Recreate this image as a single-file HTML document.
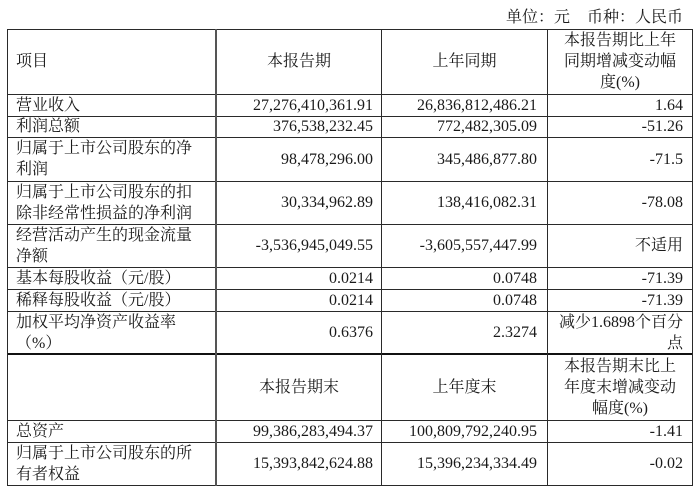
<!DOCTYPE html>
<html>
<head>
<meta charset="utf-8">
<style>
html,body{margin:0;padding:0;background:#fff;}
#w{position:relative;width:700px;height:495px;overflow:hidden;background:#fff;
font-family:"Liberation Serif","Noto Serif CJK SC",serif;font-size:16px;color:#1a1a1a;}
.h{position:absolute;left:7px;width:686px;height:1px;background:#2a2a2a;}
.v{position:absolute;top:29px;height:457px;width:1px;background:#2a2a2a;}
.c{position:absolute;display:flex;align-items:center;line-height:21px;white-space:nowrap;}
.l{justify-content:flex-start;text-align:left;}
.r{justify-content:flex-end;text-align:right;}
.m{justify-content:center;text-align:center;}
#t{position:absolute;right:17px;top:7px;line-height:22px;white-space:nowrap;}
</style>
</head>
<body>
<div id="w">
<div id="t">单位：元<span style="display:inline-block;width:17px"></span>币种：人民币</div>

<!-- horizontal lines -->
<div class="h" style="top:29px"></div>
<div class="h" style="top:94px"></div>
<div class="h" style="top:116px"></div>
<div class="h" style="top:137px"></div>
<div class="h" style="top:181px"></div>
<div class="h" style="top:224px"></div>
<div class="h" style="top:267px"></div>
<div class="h" style="top:289px"></div>
<div class="h" style="top:311px"></div>
<div class="h" style="top:353px;height:2px;background:#111"></div>
<div class="h" style="top:420px"></div>
<div class="h" style="top:442px"></div>
<div class="h" style="top:485px"></div>
<!-- vertical lines -->
<div class="v" style="left:7px"></div>
<div class="v" style="left:215px;width:2px;background:#555"></div>
<div class="v" style="left:381px"></div>
<div class="v" style="left:547px"></div>
<div class="v" style="left:692px"></div>

<!-- header -->
<div class="c l" style="left:16px;top:29px;width:190px;height:65px">项目</div>
<div class="c m" style="left:217px;top:29px;width:164px;height:65px">本报告期</div>
<div class="c m" style="left:382px;top:29px;width:165px;height:65px">上年同期</div>
<div class="c m" style="left:548px;top:29px;width:144px;height:65px">本报告期比上年<br>同期增减变动幅<br>度(%)</div>

<!-- row1 -->
<div class="c l" style="left:16px;top:94px;width:190px;height:22px">营业收入</div>
<div class="c r" style="left:217px;top:94px;width:156px;height:22px">27,276,410,361.91</div>
<div class="c r" style="left:382px;top:94px;width:155px;height:22px">26,836,812,486.21</div>
<div class="c r" style="left:548px;top:94px;width:135px;height:22px">1.64</div>
<!-- row2 -->
<div class="c l" style="left:16px;top:116px;width:190px;height:21px">利润总额</div>
<div class="c r" style="left:217px;top:116px;width:156px;height:21px">376,538,232.45</div>
<div class="c r" style="left:382px;top:116px;width:155px;height:21px">772,482,305.09</div>
<div class="c r" style="left:548px;top:116px;width:135px;height:21px">-51.26</div>
<!-- row3 -->
<div class="c l" style="left:16px;top:137px;width:195px;height:44px">归属于上市公司股东的净<br>利润</div>
<div class="c r" style="left:217px;top:137px;width:156px;height:44px">98,478,296.00</div>
<div class="c r" style="left:382px;top:137px;width:155px;height:44px">345,486,877.80</div>
<div class="c r" style="left:548px;top:137px;width:135px;height:44px">-71.5</div>
<!-- row4 -->
<div class="c l" style="left:16px;top:181px;width:195px;height:43px">归属于上市公司股东的扣<br>除非经常性损益的净利润</div>
<div class="c r" style="left:217px;top:181px;width:156px;height:43px">30,334,962.89</div>
<div class="c r" style="left:382px;top:181px;width:155px;height:43px">138,416,082.31</div>
<div class="c r" style="left:548px;top:181px;width:135px;height:43px">-78.08</div>
<!-- row5 -->
<div class="c l" style="left:16px;top:224px;width:195px;height:43px">经营活动产生的现金流量<br>净额</div>
<div class="c r" style="left:217px;top:224px;width:156px;height:43px">-3,536,945,049.55</div>
<div class="c r" style="left:382px;top:224px;width:155px;height:43px">-3,605,557,447.99</div>
<div class="c r" style="left:548px;top:224px;width:135px;height:43px">不适用</div>
<!-- row6 -->
<div class="c l" style="left:16px;top:267px;width:195px;height:22px">基本每股收益（元/股）</div>
<div class="c r" style="left:217px;top:267px;width:156px;height:22px">0.0214</div>
<div class="c r" style="left:382px;top:267px;width:155px;height:22px">0.0748</div>
<div class="c r" style="left:548px;top:267px;width:135px;height:22px">-71.39</div>
<!-- row7 -->
<div class="c l" style="left:16px;top:289px;width:195px;height:22px">稀释每股收益（元/股）</div>
<div class="c r" style="left:217px;top:289px;width:156px;height:22px">0.0214</div>
<div class="c r" style="left:382px;top:289px;width:155px;height:22px">0.0748</div>
<div class="c r" style="left:548px;top:289px;width:135px;height:22px">-71.39</div>
<!-- row8 -->
<div class="c l" style="left:16px;top:311px;width:195px;height:43px">加权平均净资产收益率<br>（%）</div>
<div class="c r" style="left:217px;top:311px;width:156px;height:43px">0.6376</div>
<div class="c r" style="left:382px;top:311px;width:155px;height:43px">2.3274</div>
<div class="c r" style="left:548px;top:311px;width:135px;height:43px">减少1.6898个百分<br>点</div>

<!-- header2 -->
<div class="c m" style="left:217px;top:355px;width:164px;height:65px">本报告期末</div>
<div class="c m" style="left:382px;top:355px;width:165px;height:65px">上年度末</div>
<div class="c m" style="left:548px;top:355px;width:144px;height:65px">本报告期末比上<br>年度末增减变动<br>幅度(%)</div>
<!-- row10 -->
<div class="c l" style="left:16px;top:420px;width:195px;height:22px">总资产</div>
<div class="c r" style="left:217px;top:420px;width:156px;height:22px">99,386,283,494.37</div>
<div class="c r" style="left:382px;top:420px;width:155px;height:22px">100,809,792,240.95</div>
<div class="c r" style="left:548px;top:420px;width:135px;height:22px">-1.41</div>
<!-- row11 -->
<div class="c l" style="left:16px;top:442px;width:195px;height:43px">归属于上市公司股东的所<br>有者权益</div>
<div class="c r" style="left:217px;top:442px;width:156px;height:43px">15,393,842,624.88</div>
<div class="c r" style="left:382px;top:442px;width:155px;height:43px">15,396,234,334.49</div>
<div class="c r" style="left:548px;top:442px;width:135px;height:43px">-0.02</div>
</div>
</body>
</html>
